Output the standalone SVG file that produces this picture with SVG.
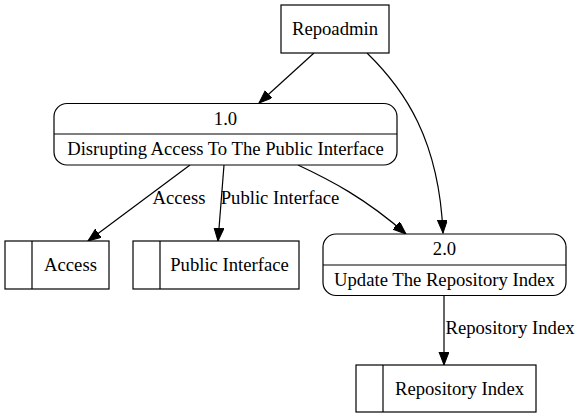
<svg xmlns="http://www.w3.org/2000/svg" width="581" height="419" viewBox="0 0 581 419">
<defs>
<style>
.n{fill:#fff;stroke:#000;stroke-width:1.2}
.d{stroke:#000;stroke-width:1.2;fill:none}
.e{fill:none;stroke:#000;stroke-width:1.2}
.t{font-family:'Liberation Serif',serif;font-size:18.67px;fill:#000;text-anchor:middle}
</style>
<marker id="ah" markerUnits="userSpaceOnUse" markerWidth="14" markerHeight="12" refX="13" refY="5" orient="auto">
<path d="M0,0 L13,5 L0,10 Z" fill="#000" stroke="#000" stroke-width="1"/>
</marker>
</defs>
<rect width="581" height="419" fill="#fff"/>
<g id="connectors">
<path class="e" d="M314,53 L259,103" marker-end="url(#ah)"/>
<path class="e" d="M367,53 C405,90 439,140 443,233" marker-end="url(#ah)"/>
<path class="e" d="M190,165 L88,241" marker-end="url(#ah)"/>
<path class="e" d="M224,165 L218,241" marker-end="url(#ah)"/>
<path class="e" d="M298,165 C330,180 365,198 406,234" marker-end="url(#ah)"/>
<path class="e" d="M444,296 L444,365" marker-end="url(#ah)"/>
<g class="t" font-family="Liberation Serif, serif">
<text x="179" y="204">Access</text>
<text x="280" y="204">Public Interface</text>
<text x="510" y="334">Repository Index</text>
</g>
</g>
<g id="repoadmin">
<rect class="n" x="281" y="5" width="108" height="48"/>
<text class="t" font-family="Liberation Serif, serif" x="335" y="35">Repoadmin</text>
</g>
<g id="p1">
<rect class="n" x="54" y="103.5" width="343" height="61.5" rx="13" ry="13"/>
<line class="d" x1="54" y1="134" x2="397" y2="134"/>
<text class="t" font-family="Liberation Serif, serif" x="225.5" y="125">1.0</text>
<text class="t" font-family="Liberation Serif, serif" x="225.5" y="155">Disrupting Access To The Public Interface</text>
</g>
<g id="p2">
<rect class="n" x="323" y="234" width="243" height="61.5" rx="13" ry="13"/>
<line class="d" x1="323" y1="265" x2="566" y2="265"/>
<text class="t" font-family="Liberation Serif, serif" x="444.5" y="255">2.0</text>
<text class="t" font-family="Liberation Serif, serif" x="444.5" y="286">Update The Repository Index</text>
</g>
<g id="access">
<rect class="n" x="5" y="241" width="104" height="48"/>
<line class="d" x1="32" y1="241" x2="32" y2="289"/>
<text class="t" font-family="Liberation Serif, serif" x="70.5" y="271">Access</text>
</g>
<g id="public-interface">
<rect class="n" x="133" y="241" width="166" height="48"/>
<line class="d" x1="160" y1="241" x2="160" y2="289"/>
<text class="t" font-family="Liberation Serif, serif" x="229.5" y="271">Public Interface</text>
</g>
<g id="repository-index">
<rect class="n" x="356" y="365" width="180" height="47"/>
<line class="d" x1="383" y1="365" x2="383" y2="412"/>
<text class="t" font-family="Liberation Serif, serif" x="459.5" y="395">Repository Index</text>
</g>
</svg>
